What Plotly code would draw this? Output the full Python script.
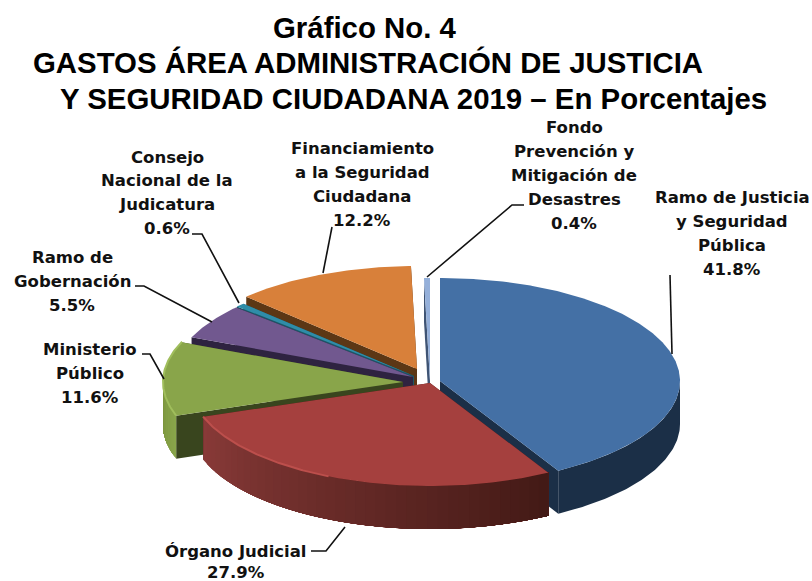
import numpy as np
import plotly.graph_objects as go

# ---------- data ----------
categories = ["Ramo de Justicia y Seguridad Pública", "Órgano Judicial", "Ministerio Público",
              "Ramo de Gobernación", "Consejo Nacional de la Judicatura",
              "Financiamiento a la Seguridad Ciudadana",
              "Fondo Prevención y Mitigación de Desastres"]
values = [41.8, 27.9, 11.6, 5.5, 0.6, 12.2, 0.4]
label_lines = [["Ramo de Justicia", "y Seguridad", "Pública"],
               ["Órgano Judicial"],
               ["Ministerio", "Público"],
               ["Ramo de", "Gobernación"],
               ["Consejo", "Nacional de la", "Judicatura"],
               ["Financiamiento", "a la Seguridad", "Ciudadana"],
               ["Fondo", "Prevención y", "Mitigación de", "Desastres"]]
title_lines = ["Gráfico No. 4", "GASTOS ÁREA ADMINISTRACIÓN DE JUSTICIA",
               "Y SEGURIDAD CIUDADANA 2019 – En Porcentajes"]

# ---------- style / layout ----------
RX, RY, DEPTH = 240, 103, 43
apex = [(440, 381), (430, 383), (403, 382), (413, 377), (414, 376), (417, 369), (430, 381)]
top_col = ["#4470A5", "#A5403E", "#89A54A", "#71588F", "#2F8DA8", "#D8803A", "#95B0DA"]
cut_col = ["#1B2F47", "#431A16", "#39451E", "#2E2340", "#1C5566", "#5C3715", "#3F5474"]
wall_from = ["#1B2F47", "#8A3B39", "#8AA64C", "#3A2C50", "#1C5566", "#5C3715", "#3F5474"]
wall_to = ["#1B2F47", "#431A16", "#7C963F", "#3A2C50", "#1C5566", "#5C3715", "#3F5474"]
rim_col = [None, "#BC4F4C", "#A0BE5C", None, None, None, None]
rim_range = [None, (205, 251), (251, 293), None, None, None, None]
draw_order = [6, 5, 4, 3, 2, 0, 1]
label_x = [732, 236, 90, 72, 167, 362, 574]
label_y0 = [197, 551, 349, 257, 157, 148, 127]
line_gap = [24, 21.5, 24, 24, 23.7, 24, 24]
leaders = [[(670, 275), (672, 354)],
           [(311, 551), (326, 551), (345, 527)],
           [(142, 354), (150, 354), (164, 379)],
           [(135, 286), (144, 286), (212, 322)],
           [(192, 234), (202, 234), (239, 303)],
           [(332, 227), (323, 273)],
           [(524, 205), (512, 205), (427, 277)]]
LABEL_FONT = dict(family="DejaVu Sans", size=16.5, color="#111111", weight="bold")
TITLE_FONT = dict(family="Liberation Sans", size=29.4, color="#000000", weight="bold")
title_pos = [(365, 27), (367.5, 62), (413, 98)]


def hex2rgb(h):
    return np.array([int(h[i:i + 2], 16) for i in (1, 3, 5)], float)


def mix(a, b, t):
    c = hex2rgb(a) * (1 - t) + hex2rgb(b) * t
    return "rgb(%d,%d,%d)" % tuple(c)


def arc(ax, ay, t1, t2, n=60):
    t = np.radians(np.linspace(t1, t2, n))
    return ax + RX * np.sin(t), ay - RY * np.cos(t)


def poly(fig, xs, ys, color, name):
    fig.add_trace(go.Scatter(x=list(xs), y=list(ys), mode="lines", fill="toself", fillcolor=color,
                             line=dict(color=color, width=0), hoverinfo="text", text=name,
                             showlegend=False))


fig = go.Figure()
edges = np.cumsum([0] + values) / sum(values) * 360

for i in draw_order:
    t1, t2 = edges[i], edges[i + 1]
    ax, ay = apex[i]
    name = f"{categories[i]}: {values[i]:.1f}%"
    # cut faces
    for t in (t1, t2):
        ex, ey = arc(ax, ay, t, t, 1)
        poly(fig, [ax, ex[0], ex[0], ax, ax], [ay, ey[0], ey[0] + DEPTH, ay + DEPTH, ay], cut_col[i], name)
    # outer wall, front part only
    a, b = max(t1, 90), min(t2, 270)
    if b > a:
        uniform = wall_from[i] == wall_to[i]
        pieces = 1 if uniform else 40
        cuts = np.linspace(a, b, pieces + 1)
        for k in range(pieces):
            # every piece reaches to the far end of the wall so no seams show
            if i == 1:
                # red is painted from its left end rightwards, light on the left
                x, y = arc(ax, ay, a, cuts[pieces - k], 80)
                f = (pieces - k - 0.5) / pieces
                col = mix(wall_to[i], wall_from[i], f)
            else:
                x, y = arc(ax, ay, cuts[k], b, 80)
                col = mix(wall_from[i], wall_to[i], (k + 0.5) / pieces)
            xs = np.r_[x, x[::-1], x[0]]
            ys = np.r_[y, y[::-1] + DEPTH, y[0]]
            poly(fig, xs, ys, col, name)
    # top face
    x, y = arc(ax, ay, t1, t2, max(8, int(t2 - t1) * 2))
    poly(fig, np.r_[ax, x, ax], np.r_[ay, y, ay], top_col[i], name)
    if rim_col[i]:
        rx, ry = arc(ax, ay, rim_range[i][0], rim_range[i][1], 80)
        fig.add_trace(go.Scatter(x=rx, y=ry, mode="lines", line=dict(color=rim_col[i], width=2),
                                 hoverinfo="skip", showlegend=False))

for pts in leaders:
    fig.add_trace(go.Scatter(x=[p[0] for p in pts], y=[p[1] for p in pts], mode="lines",
                             line=dict(color="#111111", width=1.6), hoverinfo="skip", showlegend=False))

annotations = []
for i, lines in enumerate(label_lines):
    rows = [(t, label_y0[i] + k * line_gap[i]) for k, t in enumerate(lines + [f"{values[i]:.1f}%"])]
    for t, y in rows:
        annotations.append(dict(x=label_x[i], y=y, text=t, showarrow=False, xref="x", yref="y",
                                xanchor="center", yanchor="middle", font=LABEL_FONT))
for t, (x, y) in zip(title_lines, title_pos):
    annotations.append(dict(x=x, y=y, text=t, showarrow=False, xref="x", yref="y",
                            xanchor="center", yanchor="middle", font=TITLE_FONT))

fig.update_layout(width=812, height=581, margin=dict(l=0, r=0, t=0, b=0), autosize=False,
                  paper_bgcolor="white", plot_bgcolor="white", showlegend=False,
                  annotations=annotations,
                  xaxis=dict(range=[0, 812], visible=False, fixedrange=True),
                  yaxis=dict(range=[581, 0], visible=False, fixedrange=True))
fig.write_html("out.html", config={"displayModeBar": False},
               post_script="document.body.style.margin='0';document.body.style.overflow='hidden';")
